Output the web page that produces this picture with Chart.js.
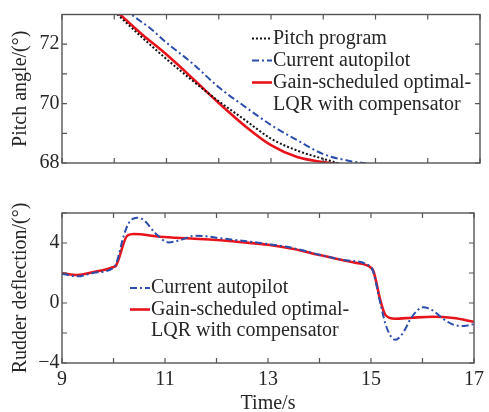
<!DOCTYPE html>
<html><head><meta charset="utf-8">
<script src="https://cdn.jsdelivr.net/npm/chart.js@4.4.1/dist/chart.umd.min.js"></script>
<style>
html,body{margin:0;padding:0;background:#fff;width:489px;height:412px;overflow:hidden}
#c1{position:absolute;left:0;top:0}
#c2{position:absolute;left:0;top:190px}
</style>
</head><body>
<canvas id="c1" width="489" height="190"></canvas>
<canvas id="c2" width="489" height="222"></canvas>
<script>
// ---------- data: pitch angle panel ----------
const pitchProgT   = [10.0, 10.5, 11.0, 11.5, 12.0, 12.5, 13.0, 13.5, 14.0, 14.3, 14.6];
const pitchProgV   = [73.1, 72.28, 71.5, 70.77, 70.08, 69.45, 68.82, 68.42, 68.14, 67.99, 67.85];
const pitchCurT    = [10.2, 10.33, 10.7, 11.0, 11.5, 12.0, 12.5, 13.0, 13.5, 14.0, 14.5, 14.76, 15.0];
const pitchCurV    = [73.2, 73.0, 72.52, 72.05, 71.35, 70.55, 69.9, 69.28, 68.77, 68.3, 68.07, 68.0, 67.92];
const pitchLqrT    = [10.0, 10.11, 10.5, 11.0, 11.5, 12.0, 12.5, 13.0, 13.5, 14.0, 14.13, 14.5];
const pitchLqrV    = [73.17, 73.0, 72.38, 71.65, 70.85, 70.02, 69.25, 68.6, 68.2, 68.03, 68.0, 67.92];

// ---------- data: rudder deflection panel ----------
const rudCurT = [9.0, 9.3, 9.6, 10.0, 10.05, 10.2, 10.3, 10.46, 10.6, 10.8, 11.07, 11.3, 11.58, 11.8, 12.0, 12.5, 13.0, 13.5, 14.0, 14.5, 15.0, 15.05, 15.2, 15.3, 15.47, 15.6, 15.8, 16.01, 16.2, 16.4, 16.62, 16.81, 17.0];
const rudCurV = [1.95, 1.78, 2.0, 2.35, 2.6, 4.5, 5.35, 5.69, 5.5, 4.7, 4.04, 4.2, 4.49, 4.45, 4.35, 4.15, 3.93, 3.65, 3.22, 2.85, 2.4, 2.0, -0.3, -1.6, -2.45, -2.1, -0.9, -0.29, -0.5, -1.05, -1.47, -1.53, -1.4];
const rudLqrT = [9.0, 9.3, 9.6, 10.0, 10.05, 10.27, 10.4, 10.9, 11.5, 12.0, 12.5, 13.0, 13.5, 14.0, 14.5, 14.7, 15.0, 15.05, 15.18, 15.28, 15.47, 15.8, 16.2, 16.6, 17.0];
const rudLqrV = [1.98, 1.87, 2.05, 2.4, 2.5, 4.5, 4.6, 4.42, 4.3, 4.2, 4.05, 3.88, 3.6, 3.2, 2.82, 2.69, 2.35, 2.1, 0.2, -0.8, -1.05, -0.98, -0.92, -1.0, -1.25];

// ---------- axis / labels ----------
const timeRange = [9, 17];
const pitchRange = [68, 73];
const rudRange = [-4, 6];
const timeLabels = [9, 11, 13, 15, 17];
const pitchLabels = [68, 70, 72];
const rudLabels = [-4, 0, 4];
const pitchTitle = 'Pitch angle/(°)';
const rudTitle = 'Rudder deflection/(°)';
const timeTitle = 'Time/s';
const lblProg = ['Pitch program'];
const lblCur = ['Current autopilot'];
const lblLqr = ['Gain-scheduled optimal-', 'LQR with compensator'];

// ---------- styles ----------
const FONT = "'Liberation Serif', 'DejaVu Serif', serif";
const TXT = '#262626';
const stBlack = {borderColor:'#111', borderWidth:2, borderDash:[2,2]};
const stBlue  = {borderColor:'#2c4fae', borderWidth:2, borderDash:[7,3,2,3]};
const stRed   = {borderColor:'#e8141c', borderWidth:2.6, borderDash:[]};

const pts = (t, v) => t.map((x, i) => ({x, y: v[i]}));
const ds = (t, v, st) => Object.assign({data: pts(t, v), pointRadius:0, fill:false,
  cubicInterpolationMode:'monotone', clip: true}, st);

const boxPlugin = {
  id:'box',
  afterDatasetsDraw(chart){
    const {ctx, chartArea:a, scales:{x, y}} = chart;
    ctx.save();
    ctx.strokeStyle = '#555'; ctx.lineWidth = 1.4; ctx.setLineDash([]);
    ctx.strokeRect(a.left, a.top, a.right - a.left, a.bottom - a.top);
    ctx.beginPath();
    ctx.lineWidth = 1.2;
    x.ticks.forEach(t => { const p = x.getPixelForValue(t.value);
      ctx.moveTo(p, a.bottom); ctx.lineTo(p, a.bottom - 5);
      ctx.moveTo(p, a.top); ctx.lineTo(p, a.top + 5); });
    y.ticks.forEach(t => { const p = y.getPixelForValue(t.value);
      ctx.moveTo(a.left, p); ctx.lineTo(a.left + 5, p);
      ctx.moveTo(a.right, p); ctx.lineTo(a.right - 5, p); });
    ctx.stroke();
    ctx.restore();
  }
};

const legendPlugin = {
  id:'customLegend',
  afterDraw(chart, args, opts){
    const ctx = chart.ctx;
    ctx.save();
    ctx.font = '20px ' + FONT;
    ctx.fillStyle = TXT;
    ctx.textBaseline = 'middle';
    ctx.textAlign = 'left';
    let row = 0;
    opts.items.forEach(it => {
      const y = opts.y + row * opts.gap;
      ctx.beginPath();
      ctx.strokeStyle = it.style.borderColor;
      ctx.lineWidth = it.style.borderWidth;
      ctx.setLineDash(it.style.borderDash);
      ctx.moveTo(opts.x, y); ctx.lineTo(opts.x + 20, y);
      ctx.stroke();
      it.lines.forEach((ln, k) => {
        ctx.fillText(ln, opts.x + 21, opts.y + (row + k) * opts.gap);
      });
      row += it.lines.length;
    });
    ctx.restore();
  }
};

function makeChart(id, datasets, yRange, yStep, yLabels, yTitle, showX, plotTop, canvasH, legend){
  const plotH = 150;
  const xAxisH = canvasH - plotTop - plotH;
  return new Chart(document.getElementById(id), {
    type:'line',
    data:{datasets},
    options:{
      responsive:false, animation:false, devicePixelRatio:1,
      layout:{padding:{left:0, right:9, top:plotTop, bottom:0}, autoPadding:false},
      plugins:{legend:{display:false}, tooltip:{enabled:false}, customLegend: legend},
      scales:{
        x:{type:'linear', min:timeRange[0], max:timeRange[1],
          grid:{display:false, drawTicks:false}, border:{display:false},
          ticks:{display:showX, stepSize:1, padding:5, color:TXT, maxRotation:0, autoSkip:false,
            font:{family:FONT, size:20},
            callback:v => timeLabels.includes(v) ? String(v) : ''},
          title:{display:showX, text:timeTitle, color:TXT, font:{family:FONT, size:20, lineHeight:0.8}, padding:{top:0,bottom:0}},
          afterFit:s => { s.height = xAxisH; }
        },
        y:{type:'linear', min:yRange[0], max:yRange[1],
          grid:{display:false, drawTicks:false}, border:{display:false},
          ticks:{stepSize:yStep, padding:2.5, color:TXT, autoSkip:false,
            font:{family:FONT, size:20},
            callback:v => yLabels.includes(v) ? String(v).replace('-', '\u2212') : ''},
          title:{display:true, text:yTitle, color:TXT, font:{family:FONT, size:20, lineHeight:1}, padding:{top:11,bottom:0}},
          afterFit:s => { s.width = 62; }
        }
      }
    },
    plugins:[boxPlugin, legendPlugin]
  });
}

makeChart('c1', [
    ds(pitchProgT, pitchProgV, stBlack),
    ds(pitchCurT, pitchCurV, stBlue),
    ds(pitchLqrT, pitchLqrV, stRed)
  ], pitchRange, 1, pitchLabels, pitchTitle, false, 13, 190,
  {x:252, y:38.5, gap:22, items:[
    {lines:lblProg, style:stBlack},
    {lines:lblCur, style:stBlue},
    {lines:lblLqr, style:stRed}]});

makeChart('c2', [
    ds(rudCurT, rudCurV, stBlue),
    ds(rudLqrT, rudLqrV, stRed)
  ], rudRange, 2, rudLabels, rudTitle, true, 23, 222,
  {x:130, y:98, gap:21.5, items:[
    {lines:lblCur, style:stBlue},
    {lines:lblLqr, style:stRed}]});
</script>
</body></html>
